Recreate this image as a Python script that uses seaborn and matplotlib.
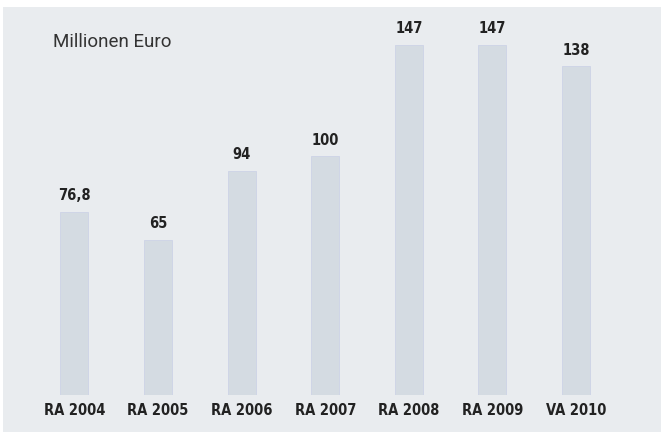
import matplotlib
matplotlib.use("Agg")
import matplotlib.pyplot as plt
from matplotlib import font_manager as fm
from matplotlib.patches import Rectangle
import seaborn as sns
import pandas as pd

# chart data
years = ["RA 2004", "RA 2005", "RA 2006", "RA 2007", "RA 2008", "RA 2009", "VA 2010"]
values = [76.8, 65, 94, 100, 147, 147, 138]
value_labels = ["76,8", "65", "94", "100", "147", "147", "138"]
unit_label = "Millionen Euro"

panel_color = "#e9ecef"
bar_color = "#d4dbe2"
text_color = "#222222"


def pick_narrow_bold():
    # look for the narrowest bold sans face that is installed
    best, best_key = None, None
    for f in fm.fontManager.ttflist:
        st = f.stretch
        st = fm.stretch_dict.get(st, 500) if isinstance(st, str) else st
        name = (f.name + " " + f.fname).lower()
        if "narrow" in name:
            st = min(st, 300)
        if st >= 500:
            continue
        w = f.weight
        w = fm.weight_dict.get(w, 400) if isinstance(w, str) else w
        if w < 600 or "italic" in f.style or "oblique" in f.style:
            continue
        if "mono" in name or "serif" in name.replace("sans-serif", ""):
            continue
        key = (st, abs(w - 700))
        if best_key is None or key < best_key:
            best, best_key = f, key
    if best is None:
        return fm.FontProperties(family="DejaVu Sans", weight="bold", stretch="condensed")
    return fm.FontProperties(fname=best.fname)


label_font = pick_narrow_bold()

sns.set_theme(style="white")
plt.rcParams["font.family"] = ["DejaVu Sans"]

W, H = 661, 432
fig = plt.figure(figsize=(W / 100, H / 100), dpi=100, facecolor="white")

# grey panel behind everything (white strip at left and top)
fig.patches.append(Rectangle((3 / W, 0), 1 - 3 / W, 1 - 7 / H,
                             transform=fig.transFigure, facecolor=panel_color,
                             edgecolor="none", zorder=-10))

# axes placed so that category spacing and value scale match the reference
left_px, right_px = 32.7, 617.8
bottom_px, top_px = 394.5, 7
ax = fig.add_axes([left_px / W, (H - bottom_px) / H,
                   (right_px - left_px) / W, (bottom_px - top_px) / H])
ax.set_facecolor("none")

df = pd.DataFrame({"year": years, "value": values})
sns.barplot(data=df, x="year", y="value", color=bar_color, saturation=1,
            width=0.335, ax=ax)
for p in ax.patches:
    p.set_edgecolor("#cdd3e6")
    p.set_linewidth(0.6)

ax.set_xlim(-0.5, 6.5)
ax.set_ylim(0, (bottom_px - top_px) / (350 / 147))

lbls = ax.bar_label(ax.containers[0], labels=value_labels, padding=6,
                    color=text_color)
for t in lbls:
    t.set_fontproperties(label_font)
    t.set_fontsize(10.5)

ax.set_xlabel("")
ax.set_ylabel("")
ax.set_yticks([])
ax.tick_params(axis="x", length=0, pad=6)
for lbl in ax.get_xticklabels():
    lbl.set_fontproperties(label_font)
    lbl.set_fontsize(10.5)
    lbl.set_color(text_color)
sns.despine(ax=ax, left=True, bottom=True)

fig.text(53 / W, 1 - 42 / H, unit_label, fontsize=13.5, color="#333333",
         va="center", ha="left", family=["Roboto", "DejaVu Sans"])

fig.savefig("out.png", dpi=100, facecolor="white")
